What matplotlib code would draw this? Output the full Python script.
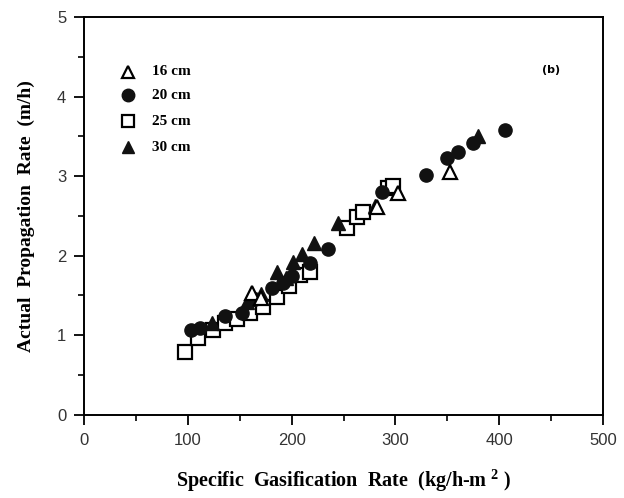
import matplotlib
matplotlib.use("Agg")
import matplotlib.pyplot as plt
from matplotlib.ticker import MultipleLocator

# Data
x16 = [162, 170, 282, 303, 353]
y16 = [1.53, 1.47, 2.61, 2.79, 3.05]

x20 = [103, 112, 136, 152, 165, 181, 192, 200, 218, 235, 287, 330, 350, 360, 375, 406]
y20 = [1.06, 1.09, 1.24, 1.28, 1.45, 1.60, 1.66, 1.75, 1.91, 2.08, 2.80, 3.02, 3.23, 3.30, 3.42, 3.58]

x25 = [97, 110, 124, 136, 147, 160, 172, 186, 197, 208, 218, 253, 263, 269, 293, 298]
y25 = [0.79, 0.96, 1.07, 1.15, 1.20, 1.28, 1.36, 1.48, 1.62, 1.76, 1.80, 2.35, 2.49, 2.55, 2.85, 2.87]

x30 = [123, 157, 170, 186, 195, 201, 210, 222, 245, 280, 380]
y30 = [1.16, 1.42, 1.52, 1.80, 1.72, 1.92, 2.02, 2.16, 2.41, 2.63, 3.50]

legend_labels = ["16 cm", "20 cm", "25 cm", "30 cm"]
xticks = [0, 100, 200, 300, 400, 500]
yticks = [0, 1, 2, 3, 4, 5]

plt.rcParams['mathtext.fontset'] = 'custom'
plt.rcParams['mathtext.bf'] = 'Liberation Serif:bold'
plt.rcParams['mathtext.rm'] = 'Liberation Serif:bold'

fig = plt.figure(figsize=(6.24, 4.98), dpi=100)
ax = fig.add_axes([0.135, 0.167, 0.831, 0.799])

ms = 9.5
ax.plot(x25, y25, 's', ms=ms, mfc='white', mec='black', mew=1.6, ls='none', zorder=3)
ax.plot(x20, y20, 'o', ms=ms, mfc='#111111', mec='#111111', ls='none', zorder=4)
ax.plot(x30, y30, '^', ms=ms + 1, mfc='#111111', mec='#111111', ls='none', zorder=4)
ax.plot(x16, y16, '^', ms=ms + 1, mfc='white', mec='black', mew=1.6, ls='none', zorder=5)

ax.set_xlim(0, 500)
ax.set_ylim(0, 5)
ax.set_xticks(xticks)
ax.set_yticks(yticks)
ax.xaxis.set_minor_locator(MultipleLocator(50))
ax.yaxis.set_minor_locator(MultipleLocator(0.5))
ax.tick_params(which='major', direction='out', length=7, width=1.3, labelsize=12,
               labelcolor='#333333', pad=6)
ax.tick_params(which='minor', direction='out', length=4, width=1.2)
for lab in ax.get_xticklabels() + ax.get_yticklabels():
    lab.set_fontfamily('Liberation Sans')
for s in ax.spines.values():
    s.set_linewidth(1.4)

ax.set_xlabel(r"Specific  Gasification  Rate  (kg/h-m$^{\ \mathbf{2}}$ )",
              fontfamily='Liberation Serif', fontweight='bold', fontsize=14.5, labelpad=14)
ax.set_ylabel("Actual  Propagation  Rate  (m/h)",
              fontfamily='Liberation Serif', fontweight='bold', fontsize=14, labelpad=16)

# legend (drawn manually in axes coords)
leg_y = [0.862, 0.803, 0.738, 0.673]
styles = [dict(marker='^', mfc='white', mec='black', mew=1.6, ms=9),
          dict(marker='o', mfc='#111111', mec='#111111', ms=9),
          dict(marker='s', mfc='white', mec='black', mew=1.6, ms=8),
          dict(marker='^', mfc='#111111', mec='#111111', ms=9)]
for yy, lab, st in zip(leg_y, legend_labels, styles):
    ax.plot([0.085], [yy], transform=ax.transAxes, ls='none', clip_on=False, **st)
    ax.text(0.13, yy, lab, transform=ax.transAxes, va='center', ha='left',
            fontfamily='Liberation Serif', fontweight='bold', fontsize=11)

ax.text(0.9, 0.867, "(b)", transform=ax.transAxes, ha='center', va='center',
        fontfamily='DejaVu Sans', fontweight='bold', fontsize=8)

fig.savefig("out.png", dpi=100)
